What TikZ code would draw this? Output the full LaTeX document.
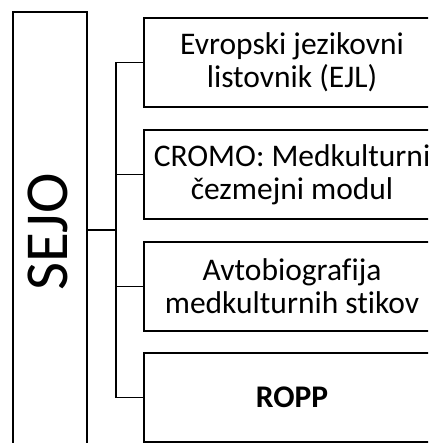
\documentclass[tikz,border=0pt]{standalone}
\usepackage{fontspec}
\setmainfont{Carlito}[Ligatures={NoCommon}]
\begin{document}
\begin{tikzpicture}[x=1pt,y=-1pt,
  box/.style={draw,line width=1.6pt,minimum width=296pt,minimum height=89pt,inner sep=0pt,align=center,font=\fontsize{31.5}{33}\selectfont},
  conn/.style={line width=1.6pt}]
\useasboundingbox (0,0) rectangle (428,443);
\clip (0,0) rectangle (428,443);
\node[draw,line width=1.6pt,minimum width=74pt,minimum height=448pt,inner sep=0pt] (sejo) at (50,236) {};
\node[rotate=90,font=\fontsize{61}{70}\selectfont,inner sep=0pt] (sejot) at (48,232) {SEJO};
\node[box] (b1) at (292,62.5) {Evropski jezikovni\\listovnik (EJL)};
\node[box] (b2) at (292,174.5) {CROMO: Medkulturni\\čezmejni modul};
\node[box] (b3) at (292,286.5) {Avtobiografija\\medkulturnih stikov};
\node[box] (b4) at (292,397.5) {\textbf{ROPP}};
\coordinate (tx) at (116,0);
\coordinate (sj) at (87,230);
\draw[conn] (b1.west) -| (tx |- b4.west) -- (b4.west);
\draw[conn] (b2.west) -- (b2.west -| tx);
\draw[conn] (b3.west) -- (b3.west -| tx);
\draw[conn] (sj) -- (sj -| tx);
\end{tikzpicture}
\end{document}
